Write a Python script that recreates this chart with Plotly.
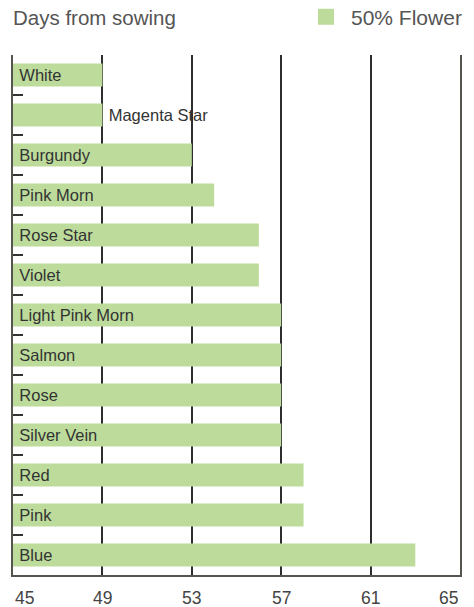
import plotly.graph_objects as go

categories = ["White", "Magenta Star", "Burgundy", "Pink Morn", "Rose Star", "Violet",
              "Light Pink Morn", "Salmon", "Rose", "Silver Vein", "Red", "Pink", "Blue"]
days = [49, 49, 53, 54, 56, 56, 57, 57, 57, 57, 58, 58, 63]
x_ticks = [45, 49, 53, 57, 61, 65]
series_name = "50% Flower"
title_text = "Days from sowing"

FONT = "Liberation Sans"
BAR = "#bddc9b"

positions = ["outside" if c == "Magenta Star" else "inside" for c in categories]

fig = go.Figure()
fig.add_trace(go.Bar(
    y=categories, x=[d - x_ticks[0] for d in days], base=x_ticks[0],
    orientation="h", name=series_name, marker=dict(color=BAR, line=dict(width=0)),
    width=0.58, text=["\u2009" + c for c in categories], textposition=positions,
    insidetextanchor="start",
    textfont=dict(family=FONT, size=16.5, color="#333333"),
    cliponaxis=False, constraintext="none", showlegend=False, hoverinfo="skip",
))
# legend entry
fig.add_trace(go.Scatter(
    x=[None], y=[None], mode="markers", name=series_name,
    marker=dict(symbol="square", size=16, color=BAR), showlegend=True,
))

annotations = []
for i, v in enumerate(x_ticks):
    anchor = "left" if i == 0 else ("right" if i == len(x_ticks) - 1 else "center")
    annotations.append(dict(x=v, xref="x", y=0, yref="paper", yanchor="top", xanchor=anchor,
                            yshift=-11, text=str(v), showarrow=False,
                            font=dict(family=FONT, size=17.5, color="#444444")))
annotations.append(dict(x=0, xref="paper", y=1, yref="paper", xanchor="left", yanchor="middle",
                        xshift=-2, yshift=38, text=title_text, showarrow=False,
                        font=dict(family=FONT, size=20.5, color="#555555")))

fig.update_layout(
    width=474, height=607,
    margin=dict(l=13, r=14, t=55, b=32, autoexpand=False),
    paper_bgcolor="white", plot_bgcolor="white",
    showlegend=True,
    legend=dict(x=1 + 7 / 447, xanchor="right", y=1 + 38 / 520, yanchor="middle", yref="paper",
                orientation="h", font=dict(family=FONT, size=21, color="#555555"),
                itemwidth=40, bgcolor="rgba(0,0,0,0)", borderwidth=0),
    xaxis=dict(range=[x_ticks[0], x_ticks[-1]], tickvals=x_ticks, showticklabels=False,
               showgrid=True, gridcolor="#2e2e2e", gridwidth=1.6, zeroline=False,
               showline=True, linecolor="#55554f", linewidth=2, ticks=""),
    yaxis=dict(autorange="reversed", showticklabels=False, showgrid=False, zeroline=False,
               showline=True, linecolor="#55554f", linewidth=2, mirror=True,
               ticks="inside", tickson="boundaries", ticklen=10, tickwidth=1.5,
               tickcolor="#333333"),
    annotations=annotations,
    bargap=0.42,
)
fig.write_html("out.html", config={"displayModeBar": False},
               post_script="document.body.style.margin='0';document.body.style.overflow='hidden';")
